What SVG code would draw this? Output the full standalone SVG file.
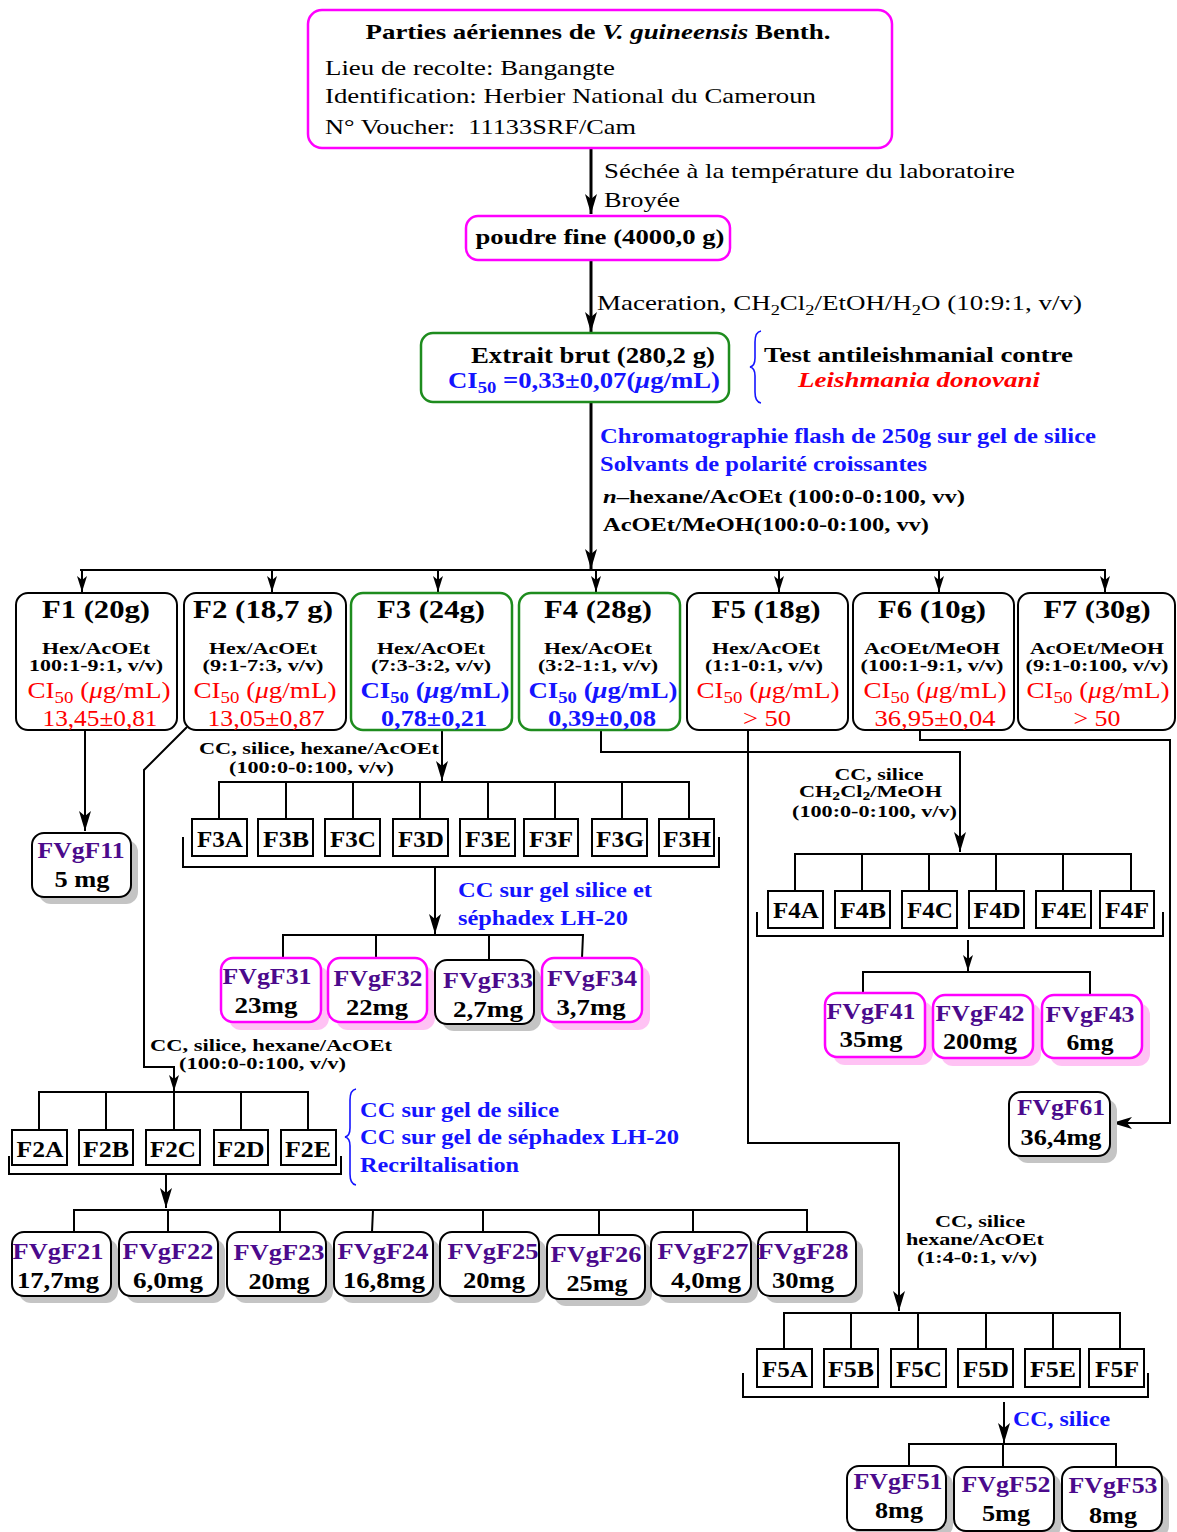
<svg xmlns="http://www.w3.org/2000/svg" width="1177" height="1532" viewBox="0 0 1177 1532">
<style>
text{font-family:"Liberation Serif","Times New Roman",serif;fill:#000}
.b{font-weight:bold}
.m{text-anchor:middle}
.i{font-style:italic}
.red{fill:#ff0000}
.blue{fill:#1414ff}
.pur{fill:#4b0a8c}
.ln{fill:none;stroke:#000;stroke-width:2}
.th{stroke-width:3}
.bl{fill:none;stroke:#1414ff;stroke-width:1.6}
.bx{fill:#fff;stroke:#000;stroke-width:2}
.mg{fill:#fff;stroke:#ff00ff;stroke-width:2.5}
.gr{fill:#fff;stroke:#1e8c1e;stroke-width:2.5}
.sh{fill:#c4c4c4}
.psh{fill:#ffc2f4}
.sq{fill:#fff;stroke:#000;stroke-width:2}
.ft{font-size:26px;font-weight:bold}
.fs{font-size:17px;font-weight:bold}
.fc{font-size:23px}
.sb{font-size:24px;font-weight:bold}
.nm{font-size:24px;font-weight:bold}
.lb{font-size:17px;font-weight:bold}
</style>
<defs>
<marker id="a" viewBox="0 0 20 12" refX="20" refY="6" markerWidth="20" markerHeight="12" markerUnits="userSpaceOnUse" orient="auto"><path d="M0,0 L20,6 L0,12 L5,6 z" fill="#000"/></marker>
<marker id="s" viewBox="0 0 16 10" refX="16" refY="5" markerWidth="16" markerHeight="10" markerUnits="userSpaceOnUse" orient="auto"><path d="M0,0 L16,5 L0,10 L4,5 z" fill="#000"/></marker>
</defs>

<g id="connectors">
<path class="ln th" d="M591,148 V214" marker-end="url(#a)"/>
<path class="ln th" d="M591,260 V332" marker-end="url(#a)"/>
<path class="ln th" d="M591,401 V569" marker-end="url(#a)"/>
<path class="ln" stroke-width="2.5" d="M80,570 H1106"/>
<path class="ln" d="M82,570 V592" marker-end="url(#s)"/>
<path class="ln" d="M272,570 V592" marker-end="url(#s)"/>
<path class="ln" d="M438,570 V592" marker-end="url(#s)"/>
<path class="ln" d="M596,570 V592" marker-end="url(#s)"/>
<path class="ln" d="M779,570 V592" marker-end="url(#s)"/>
<path class="ln" d="M939,570 V592" marker-end="url(#s)"/>
<path class="ln" d="M1105,570 V592" marker-end="url(#s)"/>
<path class="ln" stroke-width="2.5" d="M85,730 V831" marker-end="url(#a)"/>
<path class="ln" d="M187,727 L144,770 V1067 H174 V1091" marker-end="url(#s)"/>
<path class="ln" d="M39,1130 V1092 H308 V1130 M106,1092 V1130 M174,1092 V1130 M241,1092 V1130"/>
<path class="ln" d="M9,1156 V1174 H341 V1156"/>
<path class="ln" stroke-width="2.5" d="M166,1174 V1208" marker-end="url(#a)"/>
<path class="ln" d="M74,1232 V1210 H807 V1232 M168,1210 V1232 M280,1210 V1232 M373,1210 L372,1232 M483,1210 V1232 M599,1210 V1235 M693,1210 V1232"/>
<path class="ln" stroke-width="2.5" d="M442,730 V781" marker-end="url(#a)"/>
<path class="ln" d="M219,819 V782 H689 V819 M286,782 V819 M353,782 V819 M420,782 V819 M488,782 V819 M555,782 V819 M622,782 V819"/>
<path class="ln" d="M183,837 V867 H719 V837"/>
<path class="ln" stroke-width="2.5" d="M435,867 V934" marker-end="url(#a)"/>
<path class="ln" d="M283,958 V935 H583 L582,958 M376,935 V958 M489,935 V960"/>
<path class="ln" stroke-width="2.5" d="M601,730 V752 H960 V852" marker-end="url(#a)"/>
<path class="ln" d="M795,891 V854 H1131 V891 M862,854 V891 M929,854 V891 M996,854 V891 M1063,854 V891"/>
<path class="ln" d="M757,912 V936 H1163 V912"/>
<path class="ln" stroke-width="2.5" d="M968,940 V971" marker-end="url(#s)"/>
<path class="ln" d="M863,993 V972 H1090 V995"/>
<path class="ln" stroke-width="2.5" d="M748,730 V1143 H899 V1311" marker-end="url(#a)"/>
<path class="ln" d="M784,1350 V1313 H1120 V1350 M851,1313 V1350 M918,1313 V1350 M986,1313 V1350 M1053,1313 V1350"/>
<path class="ln" d="M743,1373 V1397 H1148 V1373"/>
<path class="ln" stroke-width="2.5" d="M1004,1402 V1443" marker-end="url(#a)"/>
<path class="ln" d="M909,1466 V1444 H1116 V1467 M1003,1444 V1467"/>
<path class="ln" d="M920,730 V740 H1170 V1123 H1112" marker-end="url(#a)"/>
<path class="bl" d="M761,331 Q755,332 755,342 L755,358 Q755,366 750,367 Q755,368 755,376 L755,392 Q755,402 761,403"/>
<path class="bl" d="M356,1089 Q350,1090 350,1100 L350,1128 Q350,1136 345,1137 Q350,1138 350,1146 L350,1174 Q350,1184 356,1185"/>
</g>

<g id="labels">
<text x="604" y="178" font-size="22" textLength="411" lengthAdjust="spacingAndGlyphs">Séchée à la température du laboratoire</text>
<text x="604" y="207" font-size="22" textLength="76" lengthAdjust="spacingAndGlyphs">Broyée</text>
<text x="597" y="310" font-size="22" textLength="485" lengthAdjust="spacingAndGlyphs">Maceration, CH<tspan font-size="15" dy="5">2</tspan><tspan dy="-5">Cl</tspan><tspan font-size="15" dy="5">2</tspan><tspan dy="-5">/EtOH/H</tspan><tspan font-size="15" dy="5">2</tspan><tspan dy="-5">O (10:9:1, v/v)</tspan></text>
<text class="b" x="764" y="362" font-size="22" textLength="309" lengthAdjust="spacingAndGlyphs">Test antileishmanial contre</text>
<text class="b i red" x="798" y="387" font-size="22" textLength="242" lengthAdjust="spacingAndGlyphs">Leishmania donovani</text>
<text class="b blue" x="600" y="443" font-size="21" textLength="496" lengthAdjust="spacingAndGlyphs">Chromatographie flash de 250g sur gel de silice</text>
<text class="b blue" x="600" y="471" font-size="21" textLength="327" lengthAdjust="spacingAndGlyphs">Solvants de polarité croissantes</text>
<text class="b" x="603" y="503" font-size="19" textLength="362" lengthAdjust="spacingAndGlyphs"><tspan class="i">n</tspan>–hexane/AcOEt (100:0-0:100, vv)</text>
<text class="b" x="603" y="531" font-size="19" textLength="326" lengthAdjust="spacingAndGlyphs">AcOEt/MeOH(100:0-0:100, vv)</text>
<text class="lb" x="199" y="754" textLength="240" lengthAdjust="spacingAndGlyphs">CC, silice, hexane/AcOEt</text>
<text class="lb" x="229" y="773" textLength="165" lengthAdjust="spacingAndGlyphs">(100:0-0:100, v/v)</text>
<text class="lb" x="150" y="1051" textLength="242" lengthAdjust="spacingAndGlyphs">CC, silice, hexane/AcOEt</text>
<text class="lb" x="179" y="1069" textLength="167" lengthAdjust="spacingAndGlyphs">(100:0-0:100, v/v)</text>
<text class="lb m" x="879" y="780" textLength="89" lengthAdjust="spacingAndGlyphs">CC, silice</text>
<text class="lb" x="799" y="797" textLength="143" lengthAdjust="spacingAndGlyphs">CH<tspan font-size="12" dy="3">2</tspan><tspan dy="-3">Cl</tspan><tspan font-size="12" dy="3">2</tspan><tspan dy="-3">/MeOH</tspan></text>
<text class="lb" x="792" y="817" textLength="165" lengthAdjust="spacingAndGlyphs">(100:0-0:100, v/v)</text>
<text class="lb m" x="980" y="1227" textLength="90" lengthAdjust="spacingAndGlyphs">CC, silice</text>
<text class="lb" x="906" y="1245" textLength="138" lengthAdjust="spacingAndGlyphs">hexane/AcOEt</text>
<text class="lb" x="917" y="1263" textLength="120" lengthAdjust="spacingAndGlyphs">(1:4-0:1, v/v)</text>
<text class="b blue" x="458" y="897" font-size="22" textLength="194" lengthAdjust="spacingAndGlyphs">CC sur gel silice et</text>
<text class="b blue" x="458" y="925" font-size="22" textLength="170" lengthAdjust="spacingAndGlyphs">séphadex LH-20</text>
<text class="b blue" x="360" y="1117" font-size="21" textLength="199" lengthAdjust="spacingAndGlyphs">CC sur gel de silice</text>
<text class="b blue" x="360" y="1144" font-size="21" textLength="319" lengthAdjust="spacingAndGlyphs">CC sur gel de séphadex LH-20</text>
<text class="b blue" x="360" y="1172" font-size="21" textLength="159" lengthAdjust="spacingAndGlyphs">Recriltalisation</text>
<text class="b blue" x="1013" y="1426" font-size="22" textLength="97" lengthAdjust="spacingAndGlyphs">CC, silice</text>
</g>

<g id="n-top">
<rect class="mg" x="308" y="10" width="584" height="138" rx="14"/>
<text class="b m" x="598" y="39" font-size="22" textLength="465" lengthAdjust="spacingAndGlyphs">Parties aériennes de <tspan class="i">V. guineensis</tspan> Benth.</text>
<text x="325" y="75" font-size="21" textLength="290" lengthAdjust="spacingAndGlyphs">Lieu de recolte: Bangangte</text>
<text x="325" y="103" font-size="21" textLength="491" lengthAdjust="spacingAndGlyphs">Identification: Herbier National du Cameroun</text>
<text x="325" y="134" font-size="21" textLength="311" lengthAdjust="spacingAndGlyphs">N° Voucher:&#160; 11133SRF/Cam</text>
</g>

<g id="n-poudre">
<rect class="mg" x="466" y="216" width="264" height="44" rx="12"/>
<text class="b m" x="600" y="244" font-size="22" textLength="249" lengthAdjust="spacingAndGlyphs">poudre fine (4000,0 g)</text>
</g>

<g id="n-extrait">
<rect class="gr" x="421" y="333" width="308" height="69" rx="12"/>
<text class="b" x="471" y="363" font-size="23" textLength="244" lengthAdjust="spacingAndGlyphs">Extrait brut (280,2 g)</text>
<text class="b blue" x="448" y="388" font-size="23" textLength="272" lengthAdjust="spacingAndGlyphs">CI<tspan font-size="16" dy="5">50</tspan><tspan dy="-5"> =0,33±0,07(</tspan><tspan class="i">μ</tspan>g/mL)</text>
</g>

<g id="n-F1">
<rect class="bx" x="16" y="593" width="161" height="137" rx="12"/>
<text class="ft m" x="96" y="618" textLength="108" lengthAdjust="spacingAndGlyphs">F1 (20g)</text>
<text class="fs m" x="96" y="654" textLength="108" lengthAdjust="spacingAndGlyphs">Hex/AcOEt</text>
<text class="fs m" x="96" y="671" textLength="134" lengthAdjust="spacingAndGlyphs">100:1-9:1, v/v)</text>
<text class="fc m red" x="99" y="698" textLength="143" lengthAdjust="spacingAndGlyphs">CI<tspan font-size="16" dy="5">50</tspan><tspan dy="-5"> (</tspan><tspan class="i">μ</tspan>g/mL)</text>
<text class="fc m red" x="100" y="726" textLength="115" lengthAdjust="spacingAndGlyphs">13,45±0,81</text>
</g>
<g id="n-F2">
<rect class="bx" x="184" y="593" width="162" height="137" rx="12"/>
<text class="ft m" x="263" y="618" textLength="140" lengthAdjust="spacingAndGlyphs">F2 (18,7 g)</text>
<text class="fs m" x="263" y="654" textLength="108" lengthAdjust="spacingAndGlyphs">Hex/AcOEt</text>
<text class="fs m" x="263" y="671" textLength="121" lengthAdjust="spacingAndGlyphs">(9:1-7:3, v/v)</text>
<text class="fc m red" x="265" y="698" textLength="143" lengthAdjust="spacingAndGlyphs">CI<tspan font-size="16" dy="5">50</tspan><tspan dy="-5"> (</tspan><tspan class="i">μ</tspan>g/mL)</text>
<text class="fc m red" x="266" y="726" textLength="117" lengthAdjust="spacingAndGlyphs">13,05±0,87</text>
</g>
<g id="n-F3">
<rect class="gr" x="351" y="593" width="161" height="137" rx="12"/>
<text class="ft m" x="431" y="618" textLength="108" lengthAdjust="spacingAndGlyphs">F3 (24g)</text>
<text class="fs m" x="431" y="654" textLength="108" lengthAdjust="spacingAndGlyphs">Hex/AcOEt</text>
<text class="fs m" x="431" y="671" textLength="120" lengthAdjust="spacingAndGlyphs">(7:3-3:2, v/v)</text>
<text class="fc b m blue" x="435" y="698" textLength="149" lengthAdjust="spacingAndGlyphs">CI<tspan font-size="16" dy="5">50</tspan><tspan dy="-5"> (</tspan><tspan class="i">μ</tspan>g/mL)</text>
<text class="fc b m blue" x="434" y="726" textLength="106" lengthAdjust="spacingAndGlyphs">0,78±0,21</text>
</g>
<g id="n-F4">
<rect class="gr" x="519" y="593" width="161" height="137" rx="12"/>
<text class="ft m" x="598" y="618" textLength="108" lengthAdjust="spacingAndGlyphs">F4 (28g)</text>
<text class="fs m" x="598" y="654" textLength="108" lengthAdjust="spacingAndGlyphs">Hex/AcOEt</text>
<text class="fs m" x="598" y="671" textLength="120" lengthAdjust="spacingAndGlyphs">(3:2-1:1, v/v)</text>
<text class="fc b m blue" x="603" y="698" textLength="149" lengthAdjust="spacingAndGlyphs">CI<tspan font-size="16" dy="5">50</tspan><tspan dy="-5"> (</tspan><tspan class="i">μ</tspan>g/mL)</text>
<text class="fc b m blue" x="602" y="726" textLength="108" lengthAdjust="spacingAndGlyphs">0,39±0,08</text>
</g>
<g id="n-F5">
<rect class="bx" x="687" y="593" width="161" height="137" rx="12"/>
<text class="ft m" x="766" y="618" textLength="109" lengthAdjust="spacingAndGlyphs">F5 (18g)</text>
<text class="fs m" x="766" y="654" textLength="108" lengthAdjust="spacingAndGlyphs">Hex/AcOEt</text>
<text class="fs m" x="764" y="671" textLength="118" lengthAdjust="spacingAndGlyphs">(1:1-0:1, v/v)</text>
<text class="fc m red" x="768" y="698" textLength="143" lengthAdjust="spacingAndGlyphs">CI<tspan font-size="16" dy="5">50</tspan><tspan dy="-5"> (</tspan><tspan class="i">μ</tspan>g/mL)</text>
<text class="fc m red" x="767" y="726" textLength="48" lengthAdjust="spacingAndGlyphs">&gt; 50</text>
</g>
<g id="n-F6">
<rect class="bx" x="853" y="593" width="161" height="137" rx="12"/>
<text class="ft m" x="932" y="618" textLength="108" lengthAdjust="spacingAndGlyphs">F6 (10g)</text>
<text class="fs m" x="932" y="654" textLength="136" lengthAdjust="spacingAndGlyphs">AcOEt/MeOH</text>
<text class="fs m" x="932" y="671" textLength="143" lengthAdjust="spacingAndGlyphs">(100:1-9:1, v/v)</text>
<text class="fc m red" x="935" y="698" textLength="143" lengthAdjust="spacingAndGlyphs">CI<tspan font-size="16" dy="5">50</tspan><tspan dy="-5"> (</tspan><tspan class="i">μ</tspan>g/mL)</text>
<text class="fc m red" x="935" y="726" textLength="121" lengthAdjust="spacingAndGlyphs">36,95±0,04</text>
</g>
<g id="n-F7">
<rect class="bx" x="1018" y="593" width="157" height="137" rx="12"/>
<text class="ft m" x="1097" y="618" textLength="107" lengthAdjust="spacingAndGlyphs">F7 (30g)</text>
<text class="fs m" x="1097" y="654" textLength="134" lengthAdjust="spacingAndGlyphs">AcOEt/MeOH</text>
<text class="fs m" x="1097" y="671" textLength="143" lengthAdjust="spacingAndGlyphs">(9:1-0:100, v/v)</text>
<text class="fc m red" x="1098" y="698" textLength="143" lengthAdjust="spacingAndGlyphs">CI<tspan font-size="16" dy="5">50</tspan><tspan dy="-5"> (</tspan><tspan class="i">μ</tspan>g/mL)</text>
<text class="fc m red" x="1097" y="726" textLength="47" lengthAdjust="spacingAndGlyphs">&gt; 50</text>
</g>

<g id="n-FVgF11">
<rect class="sh" x="39" y="840" width="99" height="64" rx="12"/>
<rect class="bx" x="32" y="833" width="99" height="64" rx="12"/>
<text class="nm m pur" x="81" y="858" textLength="87" lengthAdjust="spacingAndGlyphs">FVgF11</text>
<text class="nm m" x="82" y="887" textLength="55" lengthAdjust="spacingAndGlyphs">5 mg</text>
</g>

<g id="n-F3sub">
<rect class="sq" x="192" y="819" width="55" height="37"/><text class="sb m" x="220" y="847" textLength="46" lengthAdjust="spacingAndGlyphs">F3A</text>
<rect class="sq" x="258" y="819" width="55" height="37"/><text class="sb m" x="286" y="847" textLength="46" lengthAdjust="spacingAndGlyphs">F3B</text>
<rect class="sq" x="325" y="819" width="55" height="37"/><text class="sb m" x="353" y="847" textLength="46" lengthAdjust="spacingAndGlyphs">F3C</text>
<rect class="sq" x="393" y="819" width="55" height="37"/><text class="sb m" x="421" y="847" textLength="46" lengthAdjust="spacingAndGlyphs">F3D</text>
<rect class="sq" x="460" y="819" width="55" height="37"/><text class="sb m" x="488" y="847" textLength="46" lengthAdjust="spacingAndGlyphs">F3E</text>
<rect class="sq" x="524" y="819" width="54" height="37"/><text class="sb m" x="551" y="847" textLength="44" lengthAdjust="spacingAndGlyphs">F3F</text>
<rect class="sq" x="592" y="819" width="55" height="37"/><text class="sb m" x="620" y="847" textLength="48" lengthAdjust="spacingAndGlyphs">F3G</text>
<rect class="sq" x="659" y="819" width="55" height="37"/><text class="sb m" x="687" y="847" textLength="48" lengthAdjust="spacingAndGlyphs">F3H</text>
</g>

<g id="n-FVgF31">
<rect class="psh" x="229" y="966" width="100" height="64" rx="12"/>
<rect class="mg" x="221" y="958" width="100" height="64" rx="12"/>
<text class="nm m pur" x="267" y="984" textLength="89" lengthAdjust="spacingAndGlyphs">FVgF31</text>
<text class="nm m" x="266" y="1013" textLength="63" lengthAdjust="spacingAndGlyphs">23mg</text>
</g>
<g id="n-FVgF32">
<rect class="psh" x="336" y="966" width="99" height="64" rx="12"/>
<rect class="mg" x="328" y="958" width="99" height="64" rx="12"/>
<text class="nm m pur" x="378" y="986" textLength="89" lengthAdjust="spacingAndGlyphs">FVgF32</text>
<text class="nm m" x="377" y="1015" textLength="62" lengthAdjust="spacingAndGlyphs">22mg</text>
</g>
<g id="n-FVgF33">
<rect class="sh" x="442" y="967" width="99" height="64" rx="12"/>
<rect class="bx" x="435" y="960" width="99" height="64" rx="12"/>
<text class="nm m pur" x="488" y="988" textLength="90" lengthAdjust="spacingAndGlyphs">FVgF33</text>
<text class="nm m" x="488" y="1017" textLength="70" lengthAdjust="spacingAndGlyphs">2,7mg</text>
</g>
<g id="n-FVgF34">
<rect class="psh" x="550" y="966" width="100" height="64" rx="12"/>
<rect class="mg" x="542" y="958" width="100" height="64" rx="12"/>
<text class="nm m pur" x="592" y="986" textLength="90" lengthAdjust="spacingAndGlyphs">FVgF34</text>
<text class="nm m" x="591" y="1015" textLength="69" lengthAdjust="spacingAndGlyphs">3,7mg</text>
</g>

<g id="n-F4sub">
<rect class="sq" x="768" y="891" width="55" height="37"/><text class="sb m" x="796" y="918" textLength="46" lengthAdjust="spacingAndGlyphs">F4A</text>
<rect class="sq" x="835" y="891" width="55" height="37"/><text class="sb m" x="863" y="918" textLength="46" lengthAdjust="spacingAndGlyphs">F4B</text>
<rect class="sq" x="902" y="891" width="55" height="37"/><text class="sb m" x="930" y="918" textLength="46" lengthAdjust="spacingAndGlyphs">F4C</text>
<rect class="sq" x="969" y="891" width="55" height="37"/><text class="sb m" x="997" y="918" textLength="47" lengthAdjust="spacingAndGlyphs">F4D</text>
<rect class="sq" x="1036" y="891" width="55" height="37"/><text class="sb m" x="1064" y="918" textLength="46" lengthAdjust="spacingAndGlyphs">F4E</text>
<rect class="sq" x="1100" y="891" width="54" height="37"/><text class="sb m" x="1127" y="918" textLength="44" lengthAdjust="spacingAndGlyphs">F4F</text>
</g>

<g id="n-FVgF41">
<rect class="psh" x="833" y="1001" width="100" height="64" rx="12"/>
<rect class="mg" x="825" y="993" width="100" height="64" rx="12"/>
<text class="nm m pur" x="871" y="1019" textLength="89" lengthAdjust="spacingAndGlyphs">FVgF41</text>
<text class="nm m" x="871" y="1047" textLength="63" lengthAdjust="spacingAndGlyphs">35mg</text>
</g>
<g id="n-FVgF42">
<rect class="psh" x="941" y="1003" width="100" height="63" rx="12"/>
<rect class="mg" x="933" y="995" width="100" height="63" rx="12"/>
<text class="nm m pur" x="980" y="1021" textLength="89" lengthAdjust="spacingAndGlyphs">FVgF42</text>
<text class="nm m" x="980" y="1049" textLength="74" lengthAdjust="spacingAndGlyphs">200mg</text>
</g>
<g id="n-FVgF43">
<rect class="psh" x="1050" y="1003" width="100" height="63" rx="12"/>
<rect class="mg" x="1042" y="995" width="100" height="63" rx="12"/>
<text class="nm m pur" x="1090" y="1022" textLength="89" lengthAdjust="spacingAndGlyphs">FVgF43</text>
<text class="nm m" x="1090" y="1050" textLength="47" lengthAdjust="spacingAndGlyphs">6mg</text>
</g>

<g id="n-FVgF61">
<rect class="sh" x="1016" y="1099" width="101" height="64" rx="12"/>
<rect class="bx" x="1009" y="1092" width="101" height="64" rx="12"/>
<text class="nm m pur" x="1061" y="1115" textLength="88" lengthAdjust="spacingAndGlyphs">FVgF61</text>
<text class="nm m" x="1061" y="1145" textLength="81" lengthAdjust="spacingAndGlyphs">36,4mg</text>
</g>

<g id="n-F2sub">
<rect class="sq" x="12" y="1130" width="55" height="35"/><text class="sb m" x="40" y="1157" textLength="47" lengthAdjust="spacingAndGlyphs">F2A</text>
<rect class="sq" x="79" y="1130" width="54" height="35"/><text class="sb m" x="106" y="1157" textLength="46" lengthAdjust="spacingAndGlyphs">F2B</text>
<rect class="sq" x="146" y="1130" width="54" height="35"/><text class="sb m" x="173" y="1157" textLength="46" lengthAdjust="spacingAndGlyphs">F2C</text>
<rect class="sq" x="214" y="1130" width="54" height="35"/><text class="sb m" x="241" y="1157" textLength="47" lengthAdjust="spacingAndGlyphs">F2D</text>
<rect class="sq" x="281" y="1130" width="55" height="35"/><text class="sb m" x="308" y="1157" textLength="46" lengthAdjust="spacingAndGlyphs">F2E</text>
</g>

<g id="n-FVgF21">
<rect class="sh" x="19" y="1239" width="99" height="64" rx="12"/>
<rect class="bx" x="12" y="1232" width="99" height="64" rx="12"/>
<text class="nm m pur" x="58" y="1259" textLength="91" lengthAdjust="spacingAndGlyphs">FVgF21</text>
<text class="nm m" x="58" y="1288" textLength="82" lengthAdjust="spacingAndGlyphs">17,7mg</text>
</g>
<g id="n-FVgF22">
<rect class="sh" x="126" y="1239" width="99" height="64" rx="12"/>
<rect class="bx" x="119" y="1232" width="99" height="64" rx="12"/>
<text class="nm m pur" x="168" y="1259" textLength="91" lengthAdjust="spacingAndGlyphs">FVgF22</text>
<text class="nm m" x="168" y="1288" textLength="70" lengthAdjust="spacingAndGlyphs">6,0mg</text>
</g>
<g id="n-FVgF23">
<rect class="sh" x="234" y="1239" width="99" height="64" rx="12"/>
<rect class="bx" x="227" y="1232" width="99" height="64" rx="12"/>
<text class="nm m pur" x="279" y="1260" textLength="91" lengthAdjust="spacingAndGlyphs">FVgF23</text>
<text class="nm m" x="279" y="1289" textLength="61" lengthAdjust="spacingAndGlyphs">20mg</text>
</g>
<g id="n-FVgF24">
<rect class="sh" x="341" y="1239" width="99" height="64" rx="12"/>
<rect class="bx" x="334" y="1232" width="99" height="64" rx="12"/>
<text class="nm m pur" x="383" y="1259" textLength="91" lengthAdjust="spacingAndGlyphs">FVgF24</text>
<text class="nm m" x="384" y="1288" textLength="82" lengthAdjust="spacingAndGlyphs">16,8mg</text>
</g>
<g id="n-FVgF25">
<rect class="sh" x="447" y="1239" width="99" height="64" rx="12"/>
<rect class="bx" x="440" y="1232" width="99" height="64" rx="12"/>
<text class="nm m pur" x="493" y="1259" textLength="91" lengthAdjust="spacingAndGlyphs">FVgF25</text>
<text class="nm m" x="494" y="1288" textLength="62" lengthAdjust="spacingAndGlyphs">20mg</text>
</g>
<g id="n-FVgF26">
<rect class="sh" x="554" y="1242" width="98" height="64" rx="12"/>
<rect class="bx" x="547" y="1235" width="98" height="64" rx="12"/>
<text class="nm m pur" x="596" y="1262" textLength="91" lengthAdjust="spacingAndGlyphs">FVgF26</text>
<text class="nm m" x="597" y="1291" textLength="61" lengthAdjust="spacingAndGlyphs">25mg</text>
</g>
<g id="n-FVgF27">
<rect class="sh" x="658" y="1239" width="100" height="64" rx="12"/>
<rect class="bx" x="651" y="1232" width="100" height="64" rx="12"/>
<text class="nm m pur" x="703" y="1259" textLength="91" lengthAdjust="spacingAndGlyphs">FVgF27</text>
<text class="nm m" x="706" y="1288" textLength="70" lengthAdjust="spacingAndGlyphs">4,0mg</text>
</g>
<g id="n-FVgF28">
<rect class="sh" x="765" y="1239" width="98" height="64" rx="12"/>
<rect class="bx" x="758" y="1232" width="98" height="64" rx="12"/>
<text class="nm m pur" x="803" y="1259" textLength="91" lengthAdjust="spacingAndGlyphs">FVgF28</text>
<text class="nm m" x="803" y="1288" textLength="62" lengthAdjust="spacingAndGlyphs">30mg</text>
</g>

<g id="n-F5sub">
<rect class="sq" x="757" y="1349" width="55" height="38"/><text class="sb m" x="785" y="1377" textLength="46" lengthAdjust="spacingAndGlyphs">F5A</text>
<rect class="sq" x="824" y="1349" width="54" height="38"/><text class="sb m" x="851" y="1377" textLength="46" lengthAdjust="spacingAndGlyphs">F5B</text>
<rect class="sq" x="891" y="1349" width="55" height="38"/><text class="sb m" x="919" y="1377" textLength="46" lengthAdjust="spacingAndGlyphs">F5C</text>
<rect class="sq" x="958" y="1349" width="55" height="38"/><text class="sb m" x="986" y="1377" textLength="46" lengthAdjust="spacingAndGlyphs">F5D</text>
<rect class="sq" x="1025" y="1349" width="55" height="38"/><text class="sb m" x="1053" y="1377" textLength="46" lengthAdjust="spacingAndGlyphs">F5E</text>
<rect class="sq" x="1089" y="1349" width="55" height="38"/><text class="sb m" x="1117" y="1377" textLength="44" lengthAdjust="spacingAndGlyphs">F5F</text>
</g>

<g id="n-FVgF51">
<rect class="sh" x="854" y="1473" width="99" height="64" rx="12"/>
<rect class="bx" x="847" y="1466" width="99" height="64" rx="12"/>
<text class="nm m pur" x="898" y="1489" textLength="89" lengthAdjust="spacingAndGlyphs">FVgF51</text>
<text class="nm m" x="899" y="1518" textLength="48" lengthAdjust="spacingAndGlyphs">8mg</text>
</g>
<g id="n-FVgF52">
<rect class="sh" x="961" y="1474" width="100" height="64" rx="12"/>
<rect class="bx" x="954" y="1467" width="100" height="64" rx="12"/>
<text class="nm m pur" x="1006" y="1492" textLength="89" lengthAdjust="spacingAndGlyphs">FVgF52</text>
<text class="nm m" x="1006" y="1521" textLength="48" lengthAdjust="spacingAndGlyphs">5mg</text>
</g>
<g id="n-FVgF53">
<rect class="sh" x="1069" y="1474" width="100" height="64" rx="12"/>
<rect class="bx" x="1062" y="1467" width="100" height="64" rx="12"/>
<text class="nm m pur" x="1113" y="1493" textLength="89" lengthAdjust="spacingAndGlyphs">FVgF53</text>
<text class="nm m" x="1113" y="1523" textLength="48" lengthAdjust="spacingAndGlyphs">8mg</text>
</g>
</svg>
